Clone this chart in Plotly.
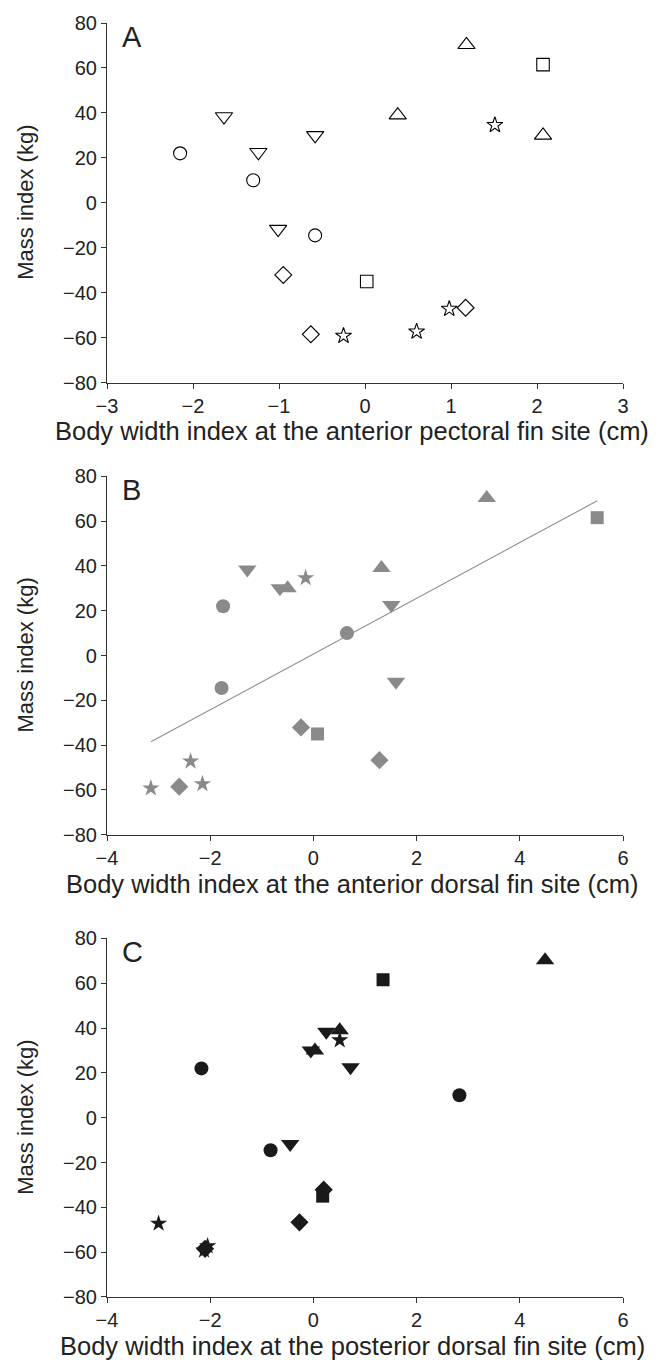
import numpy as np
import plotly.graph_objects as go

# ---------------- data ----------------
GROUPS = ["circle", "square", "triangle-up", "triangle-down", "star", "diamond"]

# Mass index (kg) per fish, per marker group (shared by all panels)
MASS = {
    "circle": [22, 10, -14.5],
    "square": [61.5, -35],
    "triangle-up": [70.3, 39, 30],
    "triangle-down": [38.4, 30, 22.5, -11.7],
    "star": [34.6, -47.2, -57.3, -59.2],
    "diamond": [-32.1, -46.7, -58.5],
}

# Body width index at the anterior pectoral fin site (cm)
PECTORAL = {
    "circle": [-2.15, -1.3, -0.58],
    "square": [2.07, 0.02],
    "triangle-up": [1.18, 0.38, 2.07],
    "triangle-down": [-1.64, -0.58, -1.24, -1.01],
    "star": [1.51, 0.98, 0.6, -0.25],
    "diamond": [-0.95, 1.17, -0.63],
}

# Body width index at the anterior dorsal fin site (cm)
ANT_DORSAL = {
    "circle": [-1.75, 0.65, -1.78],
    "square": [5.5, 0.08],
    "triangle-up": [3.36, 1.32, -0.5],
    "triangle-down": [-1.28, -0.65, 1.51, 1.6],
    "star": [-0.15, -2.38, -2.15, -3.15],
    "diamond": [-0.24, 1.28, -2.6],
}

# Body width index at the posterior dorsal fin site (cm)
POST_DORSAL = {
    "circle": [-2.17, 2.83, -0.83],
    "square": [1.35, 0.18],
    "triangle-up": [4.49, 0.51, 0.03],
    "triangle-down": [0.25, -0.05, 0.72, -0.45],
    "star": [0.51, -3.0, -2.05, -2.12],
    "diamond": [0.2, -0.27, -2.1],
}

PANEL_LABELS = ["A", "B", "C"]
X_TITLES = [
    "Body width index at the anterior pectoral fin site (cm)",
    "Body width index at the anterior dorsal fin site (cm)",
    "Body width index at the posterior dorsal fin site (cm)",
]
Y_TITLE = "Mass index (kg)"
X_RANGES = [[-3, 3], [-4, 6], [-4, 6]]
X_DTICKS = [1, 2, 2]

# ---------------- styling ----------------
FONT = "Liberation Sans, Arial, Helvetica, sans-serif"
TXT = "#222222"
GRAY = "#8a8a8c"
BLACK = "#1a1a1a"
OPEN_SIZES = {"circle": 13, "square": 12.5, "triangle-up": 15, "triangle-down": 15,
              "star": 12, "diamond": 13}
FILL_SIZES = {"circle": 14, "square": 13, "triangle-up": 16, "triangle-down": 16,
              "star": 13, "diamond": 14}

W, H = 664, 1362
ML, MR, MT, MB = 107, 41, 18, 65
PH = H - MT - MB
PW = W - ML - MR
# plot tops/bottoms in pixels
PANEL_PX = [(18, 379), (473, 833), (937, 1297)]


def ypaper(py):
    return (H - MB - py) / PH


def xpaper(px):
    return (px - ML) / PW


fig = go.Figure()

datasets = [PECTORAL, ANT_DORSAL, POST_DORSAL]
for i, data in enumerate(datasets):
    xa = "x" if i == 0 else f"x{i+1}"
    ya = "y" if i == 0 else f"y{i+1}"
    for g in GROUPS:
        if i == 0:
            marker = dict(symbol=g + "-open", size=OPEN_SIZES[g], color="black",
                          line=dict(color="black", width=1.1))
        else:
            col = GRAY if i == 1 else BLACK
            marker = dict(symbol=g, size=FILL_SIZES[g], color=col,
                          line=dict(color=col, width=0))
        fig.add_trace(go.Scatter(x=data[g], y=MASS[g], mode="markers",
                                 marker=marker, xaxis=xa, yaxis=ya,
                                 showlegend=False, hoverinfo="x+y"))

# regression line in panel B
bx = np.concatenate([ANT_DORSAL[g] for g in GROUPS])
by = np.concatenate([MASS[g] for g in GROUPS])
slope, intercept = np.polyfit(bx, by, 1)
lx = np.array([bx.min(), bx.max()])
fig.add_trace(go.Scatter(x=lx, y=slope * lx + intercept, mode="lines",
                         line=dict(color="#8f8f8f", width=1.1),
                         xaxis="x2", yaxis="y2", showlegend=False,
                         hoverinfo="skip"))

axis_common = dict(showline=True, linecolor="#333333", linewidth=1.2,
                   ticks="outside", ticklen=5, tickwidth=1.2, tickcolor="#333333",
                   showgrid=False, zeroline=False,
                   tickfont=dict(family=FONT, size=20, color=TXT))

layout = dict(width=W, height=H, paper_bgcolor="white", plot_bgcolor="white",
              margin=dict(l=ML, r=MR, t=MT, b=MB), showlegend=False)
annotations = []
for i in range(3):
    top, bot = PANEL_PX[i]
    sfx = "" if i == 0 else str(i + 1)
    layout["xaxis" + sfx] = dict(axis_common, range=X_RANGES[i], dtick=X_DTICKS[i],
                                 tick0=X_RANGES[i][0], domain=[0, 1],
                                 anchor="y" + sfx, fixedrange=True)
    layout["yaxis" + sfx] = dict(axis_common, range=[-80, 80], dtick=20, tick0=-80,
                                 domain=[ypaper(bot), ypaper(top)],
                                 anchor="x" + sfx, fixedrange=True)
    # x-axis title
    annotations.append(dict(text=X_TITLES[i], xref="paper", yref="paper",
                            x=xpaper(352), y=ypaper(bot + 49), xanchor="center",
                            yanchor="middle", showarrow=False,
                            font=dict(family=FONT, size=25.5, color=TXT)))
    # y-axis title
    annotations.append(dict(text=Y_TITLE, xref="paper", yref="paper",
                            x=xpaper(26), y=ypaper((top + bot) / 2), xanchor="center",
                            yanchor="middle", textangle=-90, showarrow=False,
                            font=dict(family=FONT, size=22, color=TXT)))
    # panel letter
    annotations.append(dict(text=PANEL_LABELS[i], xref="paper", yref="paper",
                            x=xpaper(120), y=ypaper(top - 4), xanchor="left",
                            yanchor="top", showarrow=False,
                            font=dict(family=FONT, size=29, color=TXT)))
layout["annotations"] = annotations
fig.update_layout(**layout)

# the page's default 8px body margin would shift the figure; remove it
fig.write_html("out.html", config={"displayModeBar": False},
               post_script="document.body.style.margin='0px';document.body.style.padding='0px';")
